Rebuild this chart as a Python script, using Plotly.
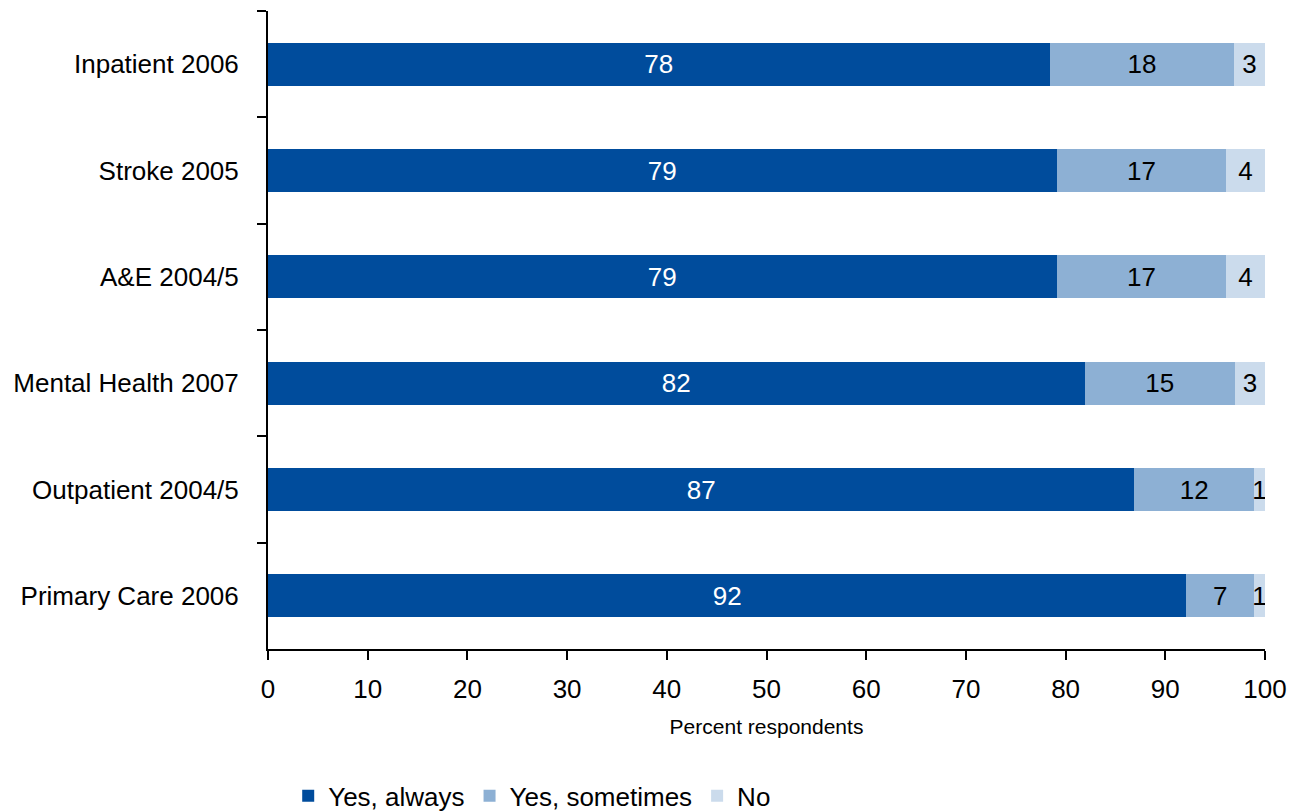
import plotly.graph_objects as go

categories = ["Inpatient 2006", "Stroke 2005", "A&E 2004/5", "Mental Health 2007",
              "Outpatient 2004/5", "Primary Care 2006"]
yes_always = [78.4, 79.1, 79.1, 81.9, 86.9, 92.1]
yes_sometimes = [18.5, 17.0, 17.0, 15.1, 12.0, 6.8]
no = [3.1, 3.9, 3.9, 3.0, 1.1, 1.1]
label_always = ["78", "79", "79", "82", "87", "92"]
label_sometimes = ["18", "17", "17", "15", "12", "7"]
label_no = ["3", "4", "4", "3", "1", "1"]
series_names = ["Yes, always", "Yes, sometimes", "No"]
colors = ["#004C9C", "#8DB0D4", "#CBDBEC"]
text_colors = ["white", "black", "black"]
x_ticks = [0, 10, 20, 30, 40, 50, 60, 70, 80, 90, 100]

FONT = "Liberation Sans, Arial, sans-serif"
FS = 26

fig = go.Figure()
for name, vals, labels, col, tcol in zip(series_names,
                                          [yes_always, yes_sometimes, no],
                                          [label_always, label_sometimes, label_no],
                                          colors, text_colors):
    fig.add_trace(go.Bar(
        y=categories, x=vals, name=name, orientation="h",
        marker=dict(color=col, line=dict(width=0)),
        text=labels, textposition="inside", insidetextanchor="middle",
        textfont=dict(color=tcol, size=FS, family=FONT),
        hoverinfo="skip",
    ))

fig.update_layout(
    width=1300, height=804,
    barmode="stack", bargap=0.595,
    margin=dict(l=260, r=43, t=3, b=163, autoexpand=False),
    plot_bgcolor="white", paper_bgcolor="white",
    font=dict(family=FONT, size=FS, color="black"),
    uniformtext=dict(minsize=FS, mode="show"),
    showlegend=True,
    legend=dict(orientation="h", x=0.265, xanchor="center", y=-0.23, yanchor="middle",
                font=dict(size=FS, family=FONT), traceorder="normal",
                itemclick=False, itemdoubleclick=False),
)
fig.update_xaxes(
    range=[0, 100], tickvals=x_ticks, ticks="outside", ticklen=9, tickwidth=2,
    tickcolor="black", showline=True, linecolor="black", linewidth=2,
    showgrid=False, zeroline=False, ticklabelstandoff=7,
    tickfont=dict(size=FS),
    title=dict(text="Percent respondents", font=dict(size=21), standoff=16),
)
fig.update_yaxes(
    autorange="reversed", tickson="boundaries", ticks="outside", ticklen=9, tickwidth=2,
    tickcolor="black", showline=True, linecolor="black", linewidth=2,
    showgrid=False, ticklabelstandoff=22, tickfont=dict(size=FS),
)

fig.write_html("out.html")
